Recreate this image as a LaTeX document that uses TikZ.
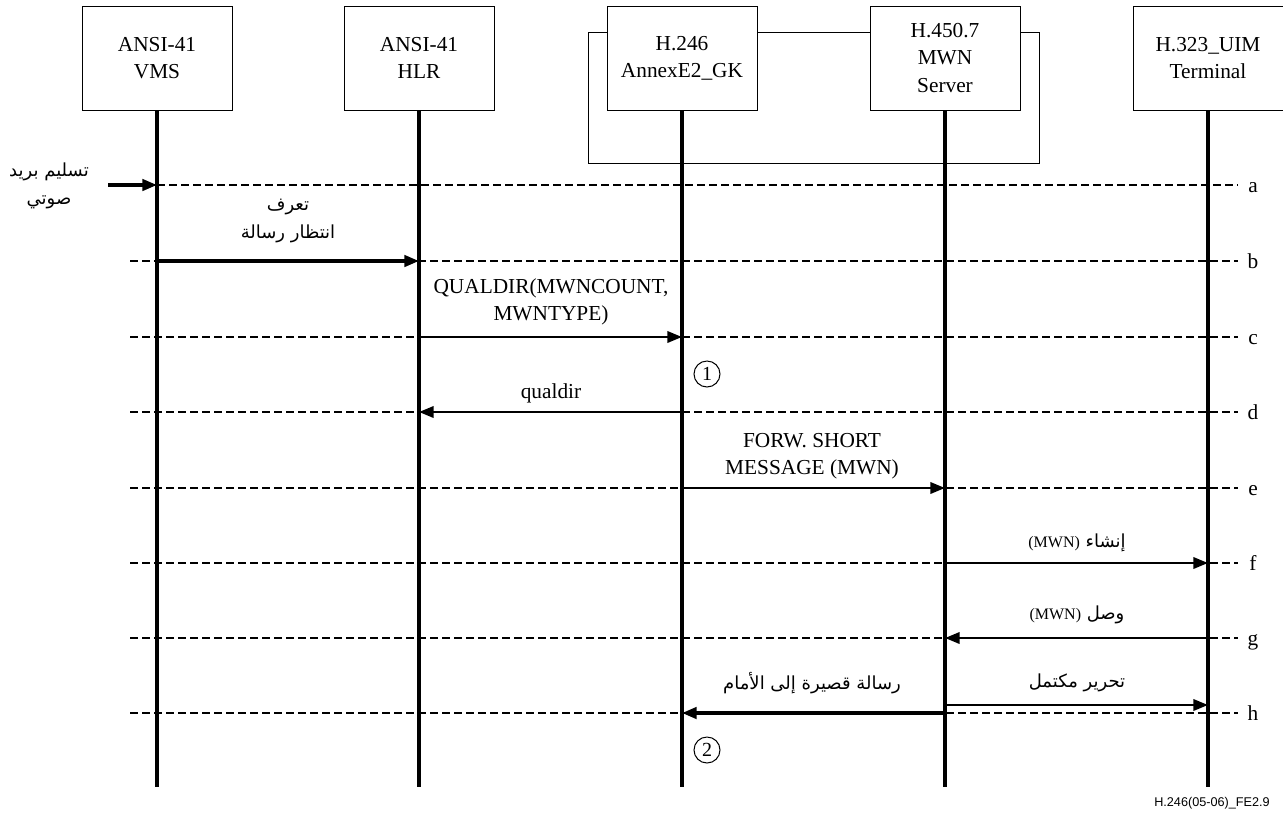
\documentclass[tikz,border=0pt]{standalone}
\usepackage{fontspec}
\setmainfont{Liberation Serif}
\newfontfamily\arabicfont[Script=Arabic]{DejaVu Sans}
\newfontfamily\footfont{Liberation Sans}
\TeXXeTstate=1
\usetikzlibrary{arrows.meta}
\newcommand{\mwnpar}{\beginL{\rmfamily\fontsize{12}{14}\selectfont(MWN)}\endL}
\begin{document}
\begin{tikzpicture}[x=0.75pt,y=-0.75pt,
  ent/.style={draw, line width=0.75pt, fill=white, minimum width=112.5pt, minimum height=78pt, align=center, font=\fontsize{16}{20.5}\selectfont, inner sep=0pt},
  life/.style={line width=2.6pt},
  gridln/.style={dash pattern=on 6pt off 3pt, line width=0.8pt},
  msg/.style={line width=1.9pt, -{Triangle[length=11pt,width=8.5pt]}},
  bmsg/.style={line width=2.6pt, -{Triangle[length=11pt,width=8.5pt]}},
  lbl/.style={font=\fontsize{16}{20.5}\selectfont, align=center, inner sep=0pt},
  arlbl/.style={font=\arabicfont\fontsize{13.5}{20}\selectfont, align=center, inner sep=0pt},
  letter/.style={font=\fontsize{16}{20}\selectfont, inner sep=0pt, anchor=base},
  num/.style={draw, circle, line width=0.75pt, minimum size=19.5pt, inner sep=0pt, font=\fontsize{15}{18}\selectfont}
]
\useasboundingbox (0,0) rectangle (1283,819);
% outer frame
\draw[line width=0.75pt] (588,32) rectangle (1039,163);
% entities
\node[ent] (vms) at (157,58) {ANSI-41\\VMS};
\node[ent] (hlr) at (419,58) {ANSI-41\\HLR};
\node[ent] (gk) at (682,58) {H.246\\AnnexE2\_GK};
\node[ent] (mwn) at (945,58) {H.450.7\\MWN\\Server};
\node[ent] (term) at (1208,58) {H.323\_UIM\\Terminal};
% grid line coordinates
\foreach \n/\y in {a/185,b/261,c/337,d/412,e/488,f/563,g/638,h/713}{
  \coordinate (L\n) at (130,\y);
  \coordinate (R\n) at (1238,\y);
  \node[letter] (t\n) at (1253,\y+7) {\n};
}
\draw[gridln] (vms.south |- La) -- (Ra);
\foreach \n in {b,c,d,e,f,g,h}{ \draw[gridln] (L\n) -- (R\n); }
% lifelines
\coordinate (end) at (0,787);
\foreach \e in {vms,hlr,gk,mwn,term}{ \draw[life] (\e.south) -- (\e.south |- end); }
% a
\coordinate (src) at (108,185);
\draw[bmsg] (src) -- (vms.south |- La);
\node[arlbl] (la) at (49,186) {\beginR تسليم بريد\endR\\[1pt]\beginR صوتي\endR};
% b
\draw[bmsg] (vms.south |- Lb) -- (hlr.south |- Lb);
\node[arlbl] (lb) at (288,221) {\beginR تعرف\endR\\[1pt]\beginR انتظار رسالة\endR};
% c
\draw[msg] (hlr.south |- Lc) -- (gk.south |- Lc);
\node[lbl] (lc) at (551,302) {QUALDIR(MWNCOUNT,\\MWNTYPE)};
\node[num] (n1) at (707,374) {1};
% d
\draw[msg] (gk.south |- Ld) -- (hlr.south |- Ld);
\node[lbl, anchor=base] (ld) at (551,398) {qualdir};
% e
\draw[msg] (gk.south |- Le) -- (mwn.south |- Le);
\node[lbl] (le) at (812,456) {FORW. SHORT\\MESSAGE (MWN)};
% f
\draw[msg] (mwn.south |- Lf) -- (term.south |- Lf);
\node[arlbl] (lf) at (1077,543) {\beginR إنشاء \mwnpar\endR};
% g
\draw[msg] (term.south |- Lg) -- (mwn.south |- Lg);
\node[arlbl] (lg) at (1077,615) {\beginR وصل \mwnpar\endR};
% h
\coordinate (hup) at (0,705);
\draw[msg] (mwn.south |- hup) -- (term.south |- hup);
\node[arlbl] (lh1) at (1077,683) {\beginR تحرير مكتمل\endR};
\draw[bmsg] (mwn.south |- Lh) -- (gk.south |- Lh);
\node[arlbl] (lh2) at (812,683) {\beginR رسالة قصيرة إلى الأمام\endR};
\node[num] (n2) at (707,750) {2};
% footer
\node[font=\footfont\fontsize{9.5}{12}\selectfont, anchor=east, inner sep=0pt] (foot) at (1270,803) {H.246(05-06)\_FE2.9};
\end{tikzpicture}
\end{document}
